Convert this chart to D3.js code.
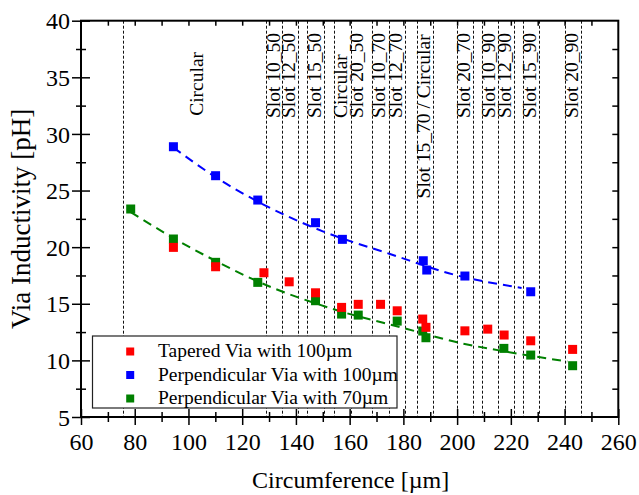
<!DOCTYPE html>
<html>
<head>
<meta charset="utf-8">
<script src="https://cdn.jsdelivr.net/npm/d3@7"></script>
<style>
  body { margin: 0; background: #fff; }
  svg text { font-family: "Liberation Serif", "Times New Roman", Times, serif !important; fill: #000; }
</style>
</head>
<body>
<div id="chart"></div>
<script>
// data
var taperedX = [94.4, 110.1, 128.1, 137.5, 147.3, 157.0, 163.2, 171.5, 177.7, 187.2, 188.4, 202.9, 211.4, 217.5, 227.4, 243.0];
var taperedY = [19.98, 18.27, 17.74, 16.94, 15.97, 14.68, 14.95, 14.95, 14.38, 13.65, 12.92, 12.61, 12.76, 12.24, 11.73, 10.97];

var perp100X = [94.4, 110.1, 125.8, 147.3, 157.3, 187.4, 188.7, 202.9, 227.4];
var perp100Y = [28.87, 26.31, 24.16, 22.16, 20.69, 18.80, 17.98, 17.45, 16.06];

var perp70X = [78.5, 94.4, 110.1, 125.8, 147.3, 157.0, 163.2, 177.7, 187.2, 188.4, 217.4, 227.4, 243.0];
var perp70Y = [23.37, 20.72, 18.66, 16.89, 15.27, 14.09, 14.0, 13.47, 12.59, 12.0, 11.06, 10.47, 9.53];

// dashed trend curves as seen in the picture
var fit100X = [94.4, 110, 126, 150, 175, 200, 224];
var fit100Y = [28.8, 26.2, 24.0, 21.4, 19.4, 17.5, 16.4];
var fit70X = [78.5, 94.4, 110, 126, 155, 181, 200, 220, 241];
var fit70Y = [23.1, 20.8, 18.8, 16.95, 14.45, 12.8, 11.6, 10.7, 9.9];

// vertical reference lines (circumference)
var refLines = [75.7, 128.7, 134.7, 140.9, 144.2, 150.4, 154.2, 160.4, 168.4, 174.6, 180.6, 184.9,
                190.9, 199.8, 205.8, 209.3, 215.3, 221.1, 224.4, 230.5, 240.1, 246.0];

// labels near the lines: text, circumference, value where the text starts
var labelText = ["Circular", "Slot 10_50", "Slot 12_50", "Slot 15_50", "Circular", "Slot 20_50",
                 "Slot 10_70", "Slot 12_70", "Slot 15_70 / Circular", "Slot 20_70", "Slot 10_90",
                 "Slot 12_90", "Slot 15_90", "Slot 20_90"];
var labelX = [105.4, 133.9, 139.5, 149.3, 159.0, 165.0, 173.3, 179.5, 189.8, 204.7, 214.0, 220.1, 229.2, 245.0];
var labelAt = [31.6, 31.4, 31.4, 31.4, 31.4, 31.4, 31.4, 31.4, 24.3, 31.4, 31.4, 31.4, 31.4, 31.4];

var seriesNames = ["Tapered Via with 100\u00b5m", "Perpendicular Via with 100\u00b5m", "Perpendicular Via with 70\u00b5m"];
var seriesColors = ["#ff0000", "#0000ff", "#008000"];

var xTicks = d3.range(60, 261, 20);
var yTicks = d3.range(5, 41, 5);

var svgWidth = 639, svgHeight = 495;
var plotLeft = 81, plotRight = 618.3, plotTop = 20.7, plotBottom = 417;

var svg = d3.select("#chart").append("svg")
    .attr("width", svgWidth)
    .attr("height", svgHeight);

var x = d3.scaleLinear().domain([60, 260]).range([plotLeft, plotRight]);
var y = d3.scaleLinear().domain([5, 40]).range([plotBottom, plotTop]);

// reference lines (snapped to half pixels so the dashes stay crisp)
svg.append("g").selectAll("line")
    .data(refLines)
    .enter()
    .append("line")
    .attr("x1", d => Math.round(x(d)) + 0.5).attr("x2", d => Math.round(x(d)) + 0.5)
    .attr("y1", plotTop).attr("y2", plotBottom)
    .attr("stroke", "#111")
    .attr("stroke-width", 1)
    .attr("stroke-dasharray", "3,2");

// labels
svg.append("g").selectAll("text")
    .data(labelText)
    .enter()
    .append("text")
    .attr("transform", (d, i) => `translate(${x(labelX[i])},${y(labelAt[i])}) rotate(-90)`)
    .style("font-size", "19.5px")
    .text(d => d);

// trend curves
var line = d3.line().curve(d3.curveMonotoneX);
function drawFit(xs, ys, color) {
    svg.append("path")
        .attr("d", line(xs.map((v, i) => [x(v), y(ys[i])])))
        .attr("fill", "none")
        .attr("stroke", color)
        .attr("stroke-width", 2)
        .attr("stroke-dasharray", "9,6");
}
drawFit(fit100X, fit100Y, seriesColors[1]);
drawFit(fit70X, fit70Y, seriesColors[2]);

// points
var ms = 9;
function drawPoints(xs, ys, color) {
    svg.append("g").selectAll("rect")
        .data(xs)
        .enter()
        .append("rect")
        .attr("x", (d, i) => x(d) - ms / 2)
        .attr("y", (d, i) => y(ys[i]) - ms / 2)
        .attr("width", ms)
        .attr("height", ms)
        .attr("fill", color);
}
drawPoints(perp70X, perp70Y, seriesColors[2]);
drawPoints(taperedX, taperedY, seriesColors[0]);
drawPoints(perp100X, perp100Y, seriesColors[1]);

// legend
var legend = svg.append("g");
legend.append("rect")
    .attr("x", 92.5).attr("y", 336)
    .attr("width", 304.5).attr("height", 72)
    .attr("fill", "#fff")
    .attr("stroke", "#222")
    .attr("stroke-width", 1.2);
seriesNames.forEach(function(name, i) {
    var cy = 351.5 + i * 23.5;
    legend.append("rect")
        .attr("x", 130.2 - 4).attr("y", cy - 4)
        .attr("width", 8).attr("height", 8)
        .attr("fill", seriesColors[i]);
    legend.append("text")
        .attr("x", 158).attr("y", cy + 5.5)
        .style("font-size", "19.5px")
        .text(name);
});

// axes
var gx = svg.append("g").attr("transform", `translate(0,${plotBottom})`)
    .call(d3.axisBottom(x).tickValues(xTicks).tickSizeOuter(0));
gx.selectAll(".tick line").attr("y1", -8).attr("y2", 8).attr("stroke-width", 1.5);
gx.selectAll(".tick text").attr("y", 33).attr("dy", null).style("font-size", "24px");

var gxm = svg.append("g").attr("transform", `translate(0,${plotBottom})`)
    .call(d3.axisBottom(x).tickValues(d3.range(70, 260, 20)).tickFormat("").tickSizeOuter(0));
gxm.selectAll(".tick line").attr("y1", -5).attr("y2", 5).attr("stroke-width", 1.5);

var gy = svg.append("g").attr("transform", `translate(${plotLeft},0)`)
    .call(d3.axisLeft(y).tickValues(yTicks).tickSizeOuter(0));
gy.selectAll(".tick line").attr("x1", -9).attr("x2", 9).attr("stroke-width", 1.5);
gy.selectAll(".tick text").attr("x", -11).attr("dy", "0.34em").style("font-size", "24px");

var gym = svg.append("g").attr("transform", `translate(${plotLeft},0)`)
    .call(d3.axisLeft(y).tickValues(d3.range(7.5, 40, 5)).tickFormat("").tickSizeOuter(0));
gym.selectAll(".tick line").attr("x1", -5).attr("x2", 5).attr("stroke-width", 1.5);

var gt = svg.append("g").attr("transform", `translate(0,${plotTop})`)
    .call(d3.axisTop(x).tickValues(d3.range(70, 260, 10)).tickFormat("").tickSizeOuter(0));
gt.selectAll(".tick line").attr("y1", 0).attr("y2", 5).attr("stroke-width", 1.5);

var gr = svg.append("g").attr("transform", `translate(${plotRight},0)`)
    .call(d3.axisRight(y).tickValues(d3.range(7.5, 40, 2.5)).tickFormat("").tickSizeOuter(0));
gr.selectAll(".tick line").attr("x1", -6).attr("x2", 0).attr("stroke-width", 1.5);

svg.selectAll(".domain").remove();

svg.append("rect")
    .attr("x", plotLeft).attr("y", plotTop)
    .attr("width", plotRight - plotLeft).attr("height", plotBottom - plotTop)
    .attr("fill", "none")
    .attr("stroke", "#000")
    .attr("stroke-width", 2);

// axis titles
svg.append("text")
    .attr("x", (plotLeft + plotRight) / 2 + 1)
    .attr("y", 488)
    .attr("text-anchor", "middle")
    .style("font-size", "24px")
    .text("Circumference [\u00b5m]");

svg.append("text")
    .attr("transform", `translate(30,${(plotTop + plotBottom) / 2}) rotate(-90)`)
    .attr("text-anchor", "middle")
    .style("font-size", "27px")
    .text("Via Inductivity [pH]");
</script>
</body>
</html>
